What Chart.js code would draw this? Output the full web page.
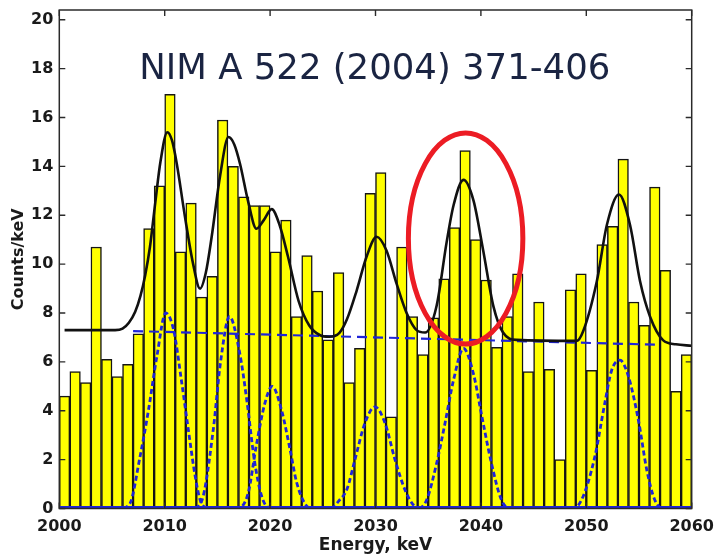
<!DOCTYPE html>
<html>
<head>
<meta charset="utf-8">
<script src="https://cdn.jsdelivr.net/npm/chart.js@4.4.1/dist/chart.umd.min.js"></script>
<style>
  html, body { margin: 0; padding: 0; background: #fff; }
  #wrap { width: 715px; height: 560px; }
</style>
</head>
<body>
<div id="wrap"><canvas id="spectrum" width="715" height="560"></canvas></div>
<script>
// counts per 1 keV bin, first bin starts at 2000 keV
const binStart = 2000
const counts = [
  4.6, 5.6, 5.15, 10.7, 6.1, 5.4, 5.9, 7.15, 11.45, 13.2,
  16.95, 10.5, 12.5, 8.65, 9.5, 15.9, 14.0, 12.75, 12.4, 12.4,
  10.5, 11.8, 7.85, 10.35, 8.9, 6.9, 9.65, 5.15, 6.55, 12.9,
  13.75, 3.75, 10.7, 7.85, 6.3, 7.8, 9.4, 11.5, 14.65, 11.0,
  9.35, 6.6, 7.85, 9.6, 5.6, 8.45, 5.7, 2.0, 8.95, 9.6,
  5.65, 10.8, 11.55, 14.3, 8.45, 7.5, 13.15, 9.75, 4.8, 6.3
]

// total fit curve [keV, counts/keV]
const fitTotal = [
  [2000.5, 7.3], [2005.3, 7.3], [2006.0, 7.36], [2006.6, 7.6], [2007.2, 8.05],
  [2007.7, 8.7], [2008.15, 9.55], [2008.6, 10.7], [2009.1, 12.5], [2009.6, 14.2],
  [2010.25, 15.4], [2010.7, 15.05], [2011.15, 14.1], [2011.9, 12.0], [2012.7, 10.0],
  [2013.35, 9.0], [2013.9, 9.65], [2014.45, 11.1], [2015.25, 13.6], [2016.05, 15.2],
  [2016.6, 14.9], [2017.15, 14.1], [2017.9, 12.6], [2018.7, 11.45], [2019.4, 11.8],
  [2020.15, 12.25], [2020.9, 11.6], [2021.7, 10.3], [2022.7, 8.5], [2023.7, 7.5],
  [2024.7, 7.1], [2025.6, 7.03], [2026.6, 7.2], [2027.3, 7.75], [2028.2, 8.9],
  [2029.15, 10.3], [2030.1, 11.12], [2031.05, 10.55], [2032.0, 9.2], [2032.95, 8.0],
  [2033.9, 7.3], [2034.7, 7.2], [2035.8, 8.3], [2036.75, 10.9], [2037.4, 12.4],
  [2038.35, 13.45], [2039.3, 12.6], [2040.2, 10.6], [2041.2, 8.25], [2042.1, 7.2],
  [2043.4, 6.9], [2049.1, 6.86], [2049.7, 7.25], [2051.0, 9.3], [2051.95, 11.6],
  [2053.1, 12.85], [2054.15, 11.6], [2055.1, 9.3], [2056.05, 7.85], [2057.3, 6.88],
  [2058.5, 6.72], [2060, 6.66]
]

// background level of the fit
const fitBackground = [[2007, 7.26], [2057, 6.7]]

// individual peak components
const peak2010 = [
  [2000, 0], [2006.0, 0.03], [2006.7, 0.2], [2007.65, 2.1], [2008.45, 4.0], [2009.25, 6.2],
  [2010.1, 8.0], [2010.85, 7.3], [2011.6, 5.2], [2012.25, 3.2], [2012.9, 1.3],
  [2013.4, 0.3], [2014.2, 0], [2060, 0]
]
const peak2016 = [
  [2000, 0], [2012.6, 0], [2013.5, 0.3], [2014.6, 3.2], [2015.3, 6.0], [2016.15, 7.85],
  [2017.1, 6.4], [2017.8, 4.4], [2018.5, 2.0], [2019.2, 0.5], [2019.9, 0.05], [2060, 0]
]
const peak2020 = [
  [2000, 0], [2016.8, 0], [2017.9, 0.6], [2018.7, 2.6], [2019.5, 4.3], [2020.2, 5.0],
  [2021.1, 4.0], [2021.9, 2.4], [2022.5, 1.1], [2023.3, 0.2], [2024.0, 0], [2060, 0]
]
const peak2030 = [
  [2000, 0], [2025.8, 0], [2026.5, 0.3], [2027.3, 0.8], [2028.05, 2.0], [2029.0, 3.5],
  [2029.95, 4.16], [2030.9, 3.5], [2031.85, 2.0], [2032.8, 0.76], [2033.7, 0.1],
  [2034.5, 0], [2060, 0]
]
const peak2038 = [
  [2000, 0], [2034.0, 0], [2034.85, 0.35], [2035.8, 1.85], [2036.6, 3.5], [2037.4, 5.25],
  [2038.35, 6.55], [2039.3, 5.5], [2040.1, 3.75], [2041.0, 1.85], [2041.95, 0.35],
  [2042.8, 0], [2060, 0]
]
const peak2053 = [
  [2000, 0], [2048.7, 0], [2049.55, 0.35], [2050.8, 2.1], [2051.75, 4.3], [2052.4, 5.65],
  [2053.2, 6.07], [2054.0, 5.4], [2054.95, 3.6], [2055.75, 1.55], [2056.5, 0.35],
  [2057.3, 0], [2060, 0]
]

const xTicks = [2000, 2010, 2020, 2030, 2040, 2050, 2060]
const yTicks = [0, 2, 4, 6, 8, 10, 12, 14, 16, 18, 20]

// region marked around the 2039 keV peak: centre and half-axes in keV, counts/keV
const mark = { x: 2038.55, y: 11.05, rx: 5.43, ry: 4.32 }
const caption = 'NIM A 522 (2004) 371-406'

const toXY = pts => pts.map(p => ({ x: p[0], y: p[1] }))
const bars = counts.map((c, i) => ({ x: binStart + i + 0.5, y: c }))

const blue = '#1f24d8'
const gaussStyle = {
  type: 'line', borderColor: blue, borderWidth: 2.8, borderDash: [5, 3],
  pointRadius: 0, fill: false, cubicInterpolationMode: 'monotone', order: 5
}

const overlay = {
  id: 'overlay',
  afterDatasetsDraw(chart) {
    const { ctx, chartArea: a, scales: { x, y } } = chart
    ctx.save()
    // blue zero level of the components
    ctx.strokeStyle = blue
    ctx.lineWidth = 2.5
    ctx.beginPath()
    ctx.moveTo(a.left, a.bottom - 1.2); ctx.lineTo(a.right, a.bottom - 1.2)
    ctx.stroke()

    // axes box
    ctx.strokeStyle = '#2a2a2a'
    ctx.lineWidth = 1.5
    ctx.strokeRect(a.left, a.top, a.right - a.left, a.bottom - a.top)
    // inward tick marks on all four sides
    ctx.lineWidth = 1.4
    ctx.beginPath()
    xTicks.forEach(v => {
      const px = x.getPixelForValue(v)
      ctx.moveTo(px, a.bottom); ctx.lineTo(px, a.bottom - 6)
      ctx.moveTo(px, a.top); ctx.lineTo(px, a.top + 6)
    })
    yTicks.forEach(v => {
      const py = y.getPixelForValue(v)
      ctx.moveTo(a.left, py); ctx.lineTo(a.left + 6, py)
      ctx.moveTo(a.right, py); ctx.lineTo(a.right - 6, py)
    })
    ctx.stroke()

    // reference caption
    ctx.font = '36px "DejaVu Sans"'
    ctx.fillStyle = '#1a2442'
    ctx.textBaseline = 'alphabetic'
    const w = ctx.measureText(caption).width
    ctx.save()
    ctx.translate(a.left + 80, a.top + 69)
    ctx.scale(471 / w, 1)
    ctx.fillText(caption, 0, 0)
    ctx.restore()

    // red ellipse
    const cx = x.getPixelForValue(mark.x)
    const cy = y.getPixelForValue(mark.y)
    const rx = x.getPixelForValue(mark.x + mark.rx) - cx
    const ry = cy - y.getPixelForValue(mark.y + mark.ry)
    ctx.beginPath()
    ctx.ellipse(cx, cy, rx, ry, 0, 0, Math.PI * 2)
    ctx.strokeStyle = '#ec1c24'
    ctx.lineWidth = 5
    ctx.stroke()
    ctx.restore()
  }
}

const tickFont = { family: '"DejaVu Sans"', weight: 'bold', size: 16 }

new Chart(document.getElementById('spectrum'), {
  data: {
    datasets: [
      {
        type: 'bar', data: bars, backgroundColor: '#ffff00', borderColor: '#151515',
        borderWidth: 1.5, barPercentage: 1, categoryPercentage: 1, order: 10
      },
      Object.assign({ data: toXY(peak2010) }, gaussStyle),
      Object.assign({ data: toXY(peak2016) }, gaussStyle),
      Object.assign({ data: toXY(peak2020) }, gaussStyle),
      Object.assign({ data: toXY(peak2030) }, gaussStyle),
      Object.assign({ data: toXY(peak2038) }, gaussStyle),
      Object.assign({ data: toXY(peak2053) }, gaussStyle),
      {
        type: 'line', data: toXY(fitBackground), borderColor: blue, borderWidth: 2.2,
        borderDash: [10, 6], pointRadius: 0, fill: false, order: 4
      },
      {
        type: 'line', data: toXY(fitTotal), borderColor: '#111', borderWidth: 2.6,
        pointRadius: 0, fill: false, cubicInterpolationMode: 'monotone', order: 1
      }
    ]
  },
  options: {
    responsive: false,
    animation: false,
    layout: { padding: { top: 10, right: 23.3, left: 0, bottom: 0 } },
    plugins: { legend: { display: false }, tooltip: { enabled: false } },
    scales: {
      x: {
        type: 'linear', min: 2000, max: 2060, offset: false,
        afterBuildTicks: s => { s.ticks = xTicks.map(v => ({ value: v })) },
        // fixed axis height; end labels may overhang the plot box
        afterFit: s => { s.height = 51.5; s.paddingLeft = 0; s.paddingRight = 0 },
        grid: { display: false, drawTicks: false },
        border: { display: false },
        ticks: { font: tickFont, color: '#1a1a1a', padding: 9, maxRotation: 0, callback: v => String(v) },
        title: {
          display: true, text: 'Energy, keV', color: '#1a1a1a',
          font: { family: '"DejaVu Sans"', weight: 'bold', size: 17 },
          padding: { top: 0, bottom: 4 }
        }
      },
      y: {
        type: 'linear', min: 0, max: 20.4,
        afterBuildTicks: s => { s.ticks = yTicks.map(v => ({ value: v })) },
        afterFit: s => { s.width = 59.3; s.paddingTop = 0; s.paddingBottom = 0 },
        grid: { display: false, drawTicks: false },
        border: { display: false },
        ticks: { font: tickFont, color: '#1a1a1a', padding: 6, callback: v => String(v) },
        title: {
          display: true, text: 'Counts/keV', color: '#1a1a1a',
          font: { family: '"DejaVu Sans"', weight: 'bold', size: 16 },
          padding: { top: 9, bottom: 0 }
        }
      }
    }
  },
  plugins: [overlay]
})
</script>
</body>
</html>
